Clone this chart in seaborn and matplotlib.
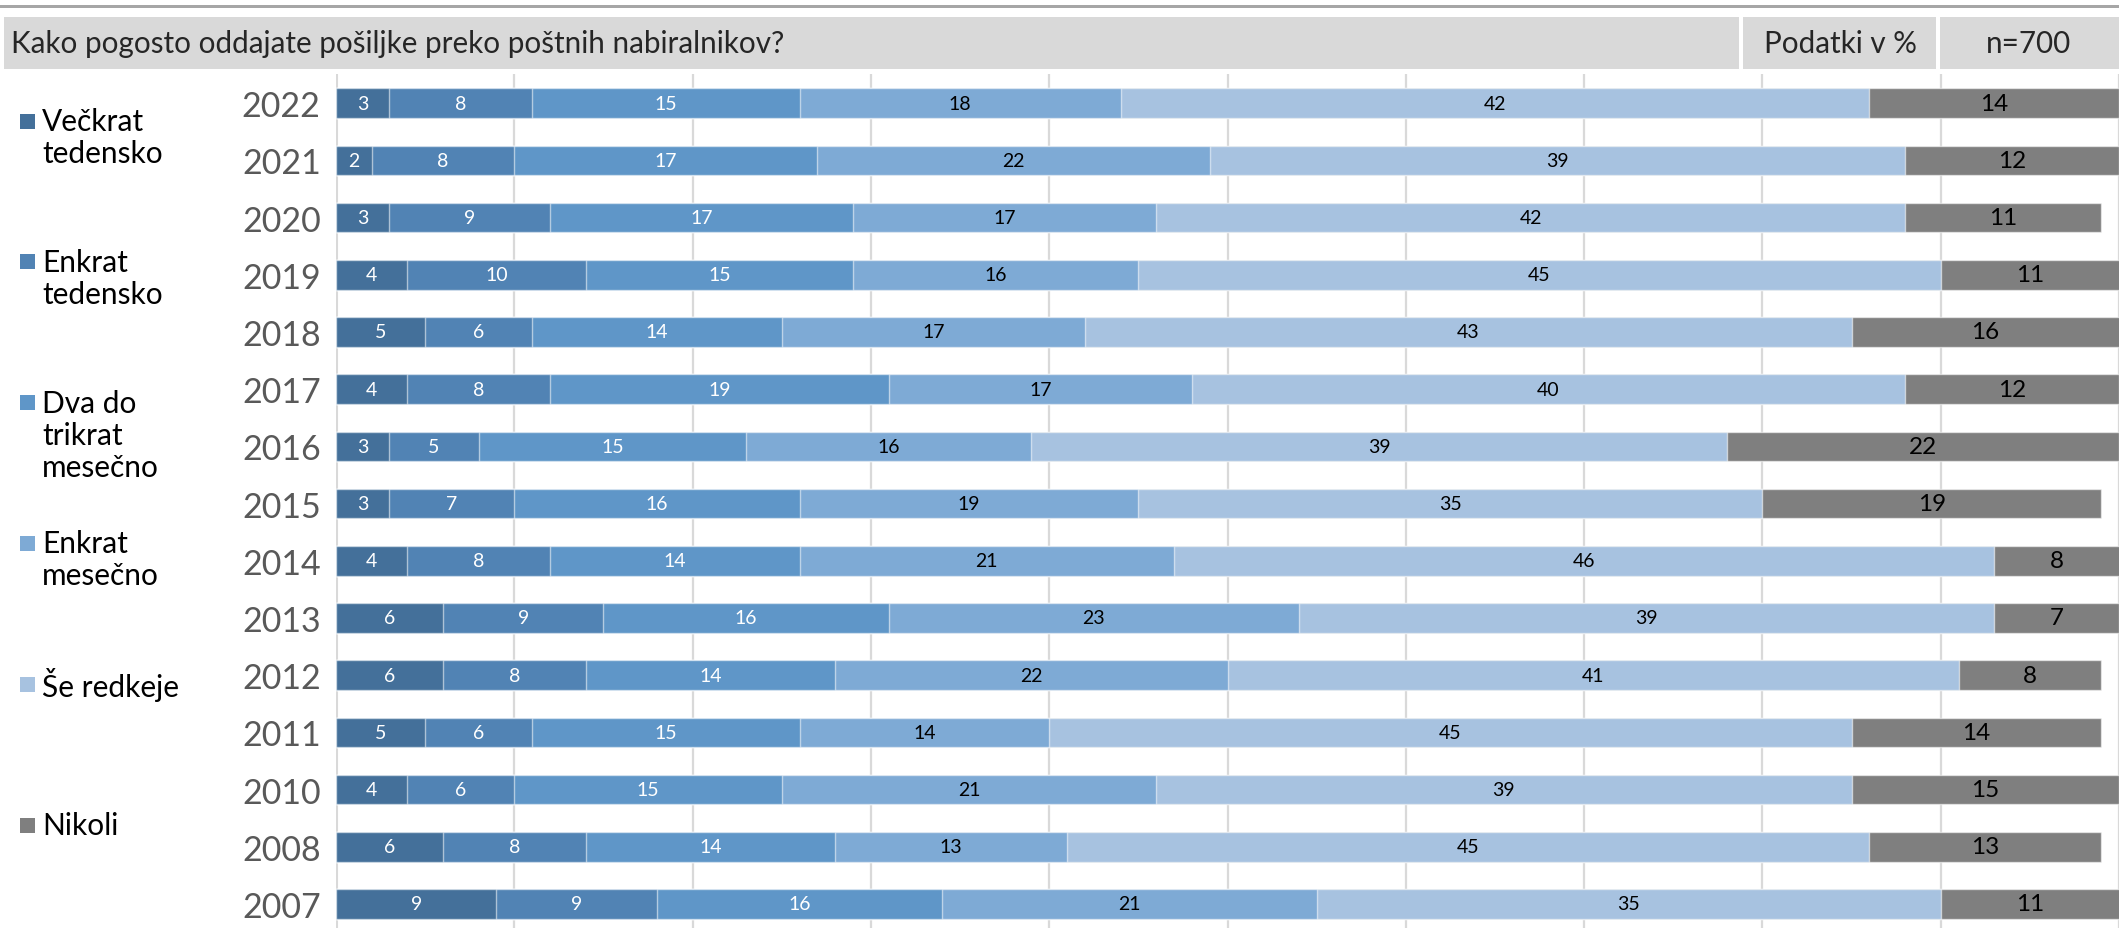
import numpy as np
import pandas as pd
import matplotlib
matplotlib.use("Agg")
import matplotlib.pyplot as plt
from matplotlib.patches import Rectangle
import seaborn as sns

# Survey data (shares in %)
years = ["2022", "2021", "2020", "2019", "2018", "2017", "2016", "2015",
         "2014", "2013", "2012", "2011", "2010", "2008", "2007"]
categories = ["Večkrat\ntedensko", "Enkrat\ntedensko", "Dva do\ntrikrat\nmesečno",
              "Enkrat\nmesečno", "Še redkeje", "Nikoli"]
veckrat_tedensko = [3, 2, 3, 4, 5, 4, 3, 3, 4, 6, 6, 5, 4, 6, 9]
enkrat_tedensko = [8, 8, 9, 10, 6, 8, 5, 7, 8, 9, 8, 6, 6, 8, 9]
dva_do_trikrat_mesecno = [15, 17, 17, 15, 14, 19, 15, 16, 14, 16, 14, 15, 15, 14, 16]
enkrat_mesecno = [18, 22, 17, 16, 17, 17, 16, 19, 21, 23, 22, 14, 21, 13, 21]
se_redkeje = [42, 39, 42, 45, 43, 40, 39, 35, 46, 39, 41, 45, 39, 45, 35]
nikoli = [14, 12, 11, 11, 16, 12, 22, 19, 8, 7, 8, 14, 15, 13, 11]

title = "Kako pogosto oddajate pošiljke preko poštnih nabiralnikov?"
unit_note = "Podatki v %"
sample_note = "n=700"

series = [veckrat_tedensko, enkrat_tedensko, dva_do_trikrat_mesecno,
          enkrat_mesecno, se_redkeje, nikoli]
colors = ["#44709a", "#5183b4", "#5f96c8", "#7eaad5", "#a7c2e0", "#7f7f7f"]
label_colors = ["white", "white", "white", "black", "black", "black"]
label_sizes = [14, 14, 14, 14, 14, 17.5]

FONT = ["Lato", "DejaVu Sans"]
sns.set_theme(style="white")
plt.rcParams["font.family"] = FONT

W, H = 2119, 929
fig = plt.figure(figsize=(W / 100, H / 100), dpi=100)

# Plot area: from the 0 % gridline to the right edge, below the header band
ax_left, ax_top = 336 / W, 1 - 75 / H
ax = fig.add_axes([ax_left, 0, 1 - ax_left, ax_top])

values = np.array(series, dtype=float)          # shape (6, n_years)
cum = np.cumsum(values, axis=0)

df = pd.DataFrame({"year": years})
for k in range(len(series)):
    df[f"cum{k}"] = cum[k]

# Stacked bars: draw cumulative totals from the longest to the shortest
for k in reversed(range(len(series))):
    sns.barplot(data=df, x=f"cum{k}", y="year", order=years, orient="h",
                color=colors[k], saturation=1, width=0.52,
                edgecolor=(1, 1, 1, 0.55), linewidth=1.0, ax=ax, zorder=2)

# Segment value labels
for k in range(len(series)):
    for i, yr in enumerate(years):
        left = cum[k][i] - values[k][i]
        right = min(cum[k][i], 100)
        ax.text((left + right) / 2, i, f"{int(values[k][i])}",
                ha="center", va="center", color=label_colors[k],
                fontsize=label_sizes[k], zorder=5)

ax.set_xlim(0, 100)
ax.set_ylim(14.42, -0.51)
ax.set_xticks(np.arange(0, 101, 10))
ax.xaxis.grid(True, color="#d9d9d9", linewidth=1.6, zorder=0)
ax.set_axisbelow(True)
ax.yaxis.grid(False)
for s in ax.spines.values():
    s.set_visible(False)
ax.axvline(0, color="#d9d9d9", linewidth=2.2, zorder=1)
ax.set_xlabel("")
ax.set_ylabel("")
ax.tick_params(axis="x", bottom=False, labelbottom=False)
ax.tick_params(axis="y", left=False, pad=5, labelsize=24.5, labelcolor="#595959")

# Top rule and header band
fig.add_artist(Rectangle((0, 1 - 9 / H), 1, 3 / H, transform=fig.transFigure,
                         color="#a6a6a6", lw=0))
band_y0, band_h = 1 - 70 / H, 52 / H
for x0, x1 in [(4, 1739), (1743, 1936), (1940, W)]:
    fig.add_artist(Rectangle((x0 / W, band_y0), (x1 - x0) / W, band_h,
                             transform=fig.transFigure, color="#d9d9d9", lw=0))
ty = band_y0 + band_h / 2
fig.text(11 / W, ty, title, ha="left", va="center", fontsize=21.3,
         color="#262626")
fig.text(1840 / W, ty, unit_note, ha="center", va="center", fontsize=21.3,
         color="#262626")
fig.text(2029 / W, ty, sample_note, ha="center", va="center", fontsize=21.3,
         color="#262626")

# Legend on the left
first_line_y = 122
step = 140.8
line_gap = 32
for k, name in enumerate(categories):
    yc = first_line_y + k * step
    fig.add_artist(Rectangle((20 / W, 1 - (yc + 7.5) / H), 15 / W, 15 / H,
                             transform=fig.transFigure, color=colors[k], lw=0))
    for j, line in enumerate(name.split("\n")):
        fig.text(42 / W, 1 - (yc + j * line_gap) / H, line, ha="left",
                 va="center", fontsize=21.5, color="#000000")

fig.savefig("out.png", dpi=100)
